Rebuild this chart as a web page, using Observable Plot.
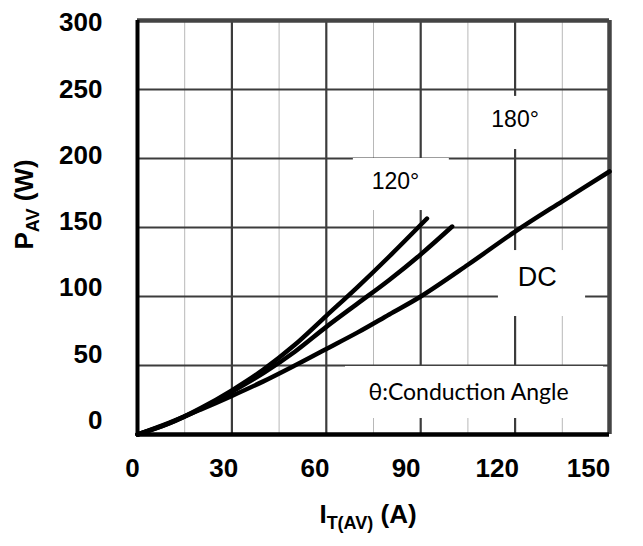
<!DOCTYPE html>
<html>
<head>
<meta charset="utf-8">
<script src="https://cdn.jsdelivr.net/npm/d3@7"></script>
<script src="https://cdn.jsdelivr.net/npm/@observablehq/plot@0.6"></script>
<style>
  html, body { margin: 0; padding: 0; background: #fff; }
  #wrap { position: relative; width: 643px; height: 546px; }
  #wrap svg { position: absolute; left: 0; top: 0; }
</style>
</head>
<body>
<div id="wrap"></div>
<script>
// ---- data ----
const xTicks = [0, 30, 60, 90, 120, 150];
const yTicks = [0, 50, 100, 150, 200, 250, 300];
const xMajor = [30, 60, 90, 120];
const xMinor = [15, 45, 75, 105, 135];
const yMajor = [50, 100, 150, 200, 250];

const curveA_I = [0, 10, 20, 30, 40, 50, 60, 70, 80, 92];
const curveA_P = [0, 8, 19, 32, 47, 65, 86, 107, 129, 156.5];

const curveB_I = [0, 10, 20, 30, 40, 50, 60, 70, 80, 90, 100];
const curveB_P = [0, 8, 18.5, 31, 44.5, 60, 78, 95, 112, 130.5, 150.7];

const curveDC_I = [0, 10, 20, 30, 40, 50, 60, 70, 80, 90, 105, 120, 135, 150];
const curveDC_P = [0, 8.5, 18, 28, 38.5, 50, 62, 74, 87, 100, 123, 147, 169, 190.6];

const labelText = ["120°", "180°", "DC", "θ:Conduction Angle"];
const labelI = [82, 120, 127, 105.2];
const labelP = [183, 228, 113.8, 30.4];
// white label boxes (data units)
const boxI1 = [68.6, 110.6, 114.7, 66.1];
const boxI2 = [99.1, 129.6, 142.4, 148.1];
const boxP1 = [162.3, 206.5, 85.5, 11.6];
const boxP2 = [200, 245, 133.3, 49.3];

// ---- tables ----
const toRows = (I, P, name) => I.map((v, i) => ({I: v, P: P[i], name}));
const series = [
  ...toRows(curveA_I, curveA_P, "A"),
  ...toRows(curveB_I, curveB_P, "B"),
  ...toRows(curveDC_I, curveDC_P, "DC")
];
const labels = labelText.map((t, i) => ({t, I: labelI[i], P: labelP[i]}));
const boxes = boxI1.map((v, i) => ({x1: v, x2: boxI2[i], y1: boxP1[i], y2: boxP2[i]}));

const W = 643, H = 546;

const main = Plot.plot({
  width: W, height: H,
  marginLeft: 137, marginRight: 34, marginTop: 20, marginBottom: 112,
  x: {domain: [0, 150], axis: null},
  y: {domain: [0, 300], axis: null},
  style: {background: "white"},
  marks: [
    Plot.ruleX(xMinor, {stroke: "#b8b8b8", strokeWidth: 1}),
    Plot.ruleX(xMajor, {stroke: "#3c3c3c", strokeWidth: 2.2}),
    Plot.ruleY(yMajor, {stroke: "#3c3c3c", strokeWidth: 2.2}),
    Plot.rect(boxes, {x1: "x1", x2: "x2", y1: "y1", y2: "y2", fill: "white"}),
    Plot.ruleX([150], {stroke: "#444", strokeWidth: 4.5}),
    Plot.ruleY([300], {stroke: "#444", strokeWidth: 4.5}),
    Plot.ruleX([0], {stroke: "#000", strokeWidth: 4}),
    Plot.ruleY([0], {stroke: "#000", strokeWidth: 4.5}),
    Plot.line(series, {x: "I", y: "P", z: "name", stroke: "#000", strokeWidth: 4.5, curve: "catmull-rom", strokeLinecap: "round"}),
    Plot.text(labels.slice(0, 3), {x: "I", y: "P", text: "t", fontSize: 23, fontFamily: "Liberation Sans", fill: "#000", lineAnchor: "middle"}),
    Plot.text(labels.slice(3), {x: "I", y: "P", text: "t", fontSize: 23, fontFamily: "Lato", fill: "#000", lineAnchor: "middle"})
  ]
});
main.querySelectorAll("text").forEach(t => {
  if (t.textContent === "DC") t.setAttribute("font-size", 27);
});

const axes = Plot.plot({
  width: W, height: H,
  marginLeft: 132, marginRight: 55, marginTop: 22.5, marginBottom: 126,
  x: {domain: [0, 150]},
  y: {domain: [0, 300]},
  style: {background: "transparent", fontFamily: "Liberation Sans", color: "#000"},
  marks: [
    Plot.axisX({ticks: xTicks, tickSize: 0, tickPadding: 38, label: null, fontSize: 26, fontWeight: "bold", tickFormat: d => String(d)}),
    Plot.axisY({ticks: yTicks, tickSize: 0, tickPadding: 30, label: null, fontSize: 26, fontWeight: "bold", tickFormat: d => String(d)})
  ]
});

const svgA = d3.select(axes);
const yt = svgA.append("text")
  .attr("transform", "translate(33,204.5) rotate(-90)")
  .attr("text-anchor", "middle")
  .attr("font-family", "Liberation Sans")
  .attr("font-weight", "bold")
  .attr("font-size", 26)
  .attr("fill", "#000");
yt.append("tspan").text("P");
yt.append("tspan").attr("font-size", 18).attr("dy", 6).text("AV");
yt.append("tspan").attr("dy", -6).text(" (W)");

const xt = svgA.append("text")
  .attr("transform", "translate(368,523)")
  .attr("text-anchor", "middle")
  .attr("font-family", "Liberation Sans")
  .attr("font-weight", "bold")
  .attr("font-size", 26)
  .attr("fill", "#000");
xt.append("tspan").text("I");
xt.append("tspan").attr("font-size", 18).attr("dy", 6).text("T(AV)");
xt.append("tspan").attr("dy", -6).text(" (A)");

const wrap = document.getElementById("wrap");
wrap.appendChild(main);
wrap.appendChild(axes);
</script>
</body>
</html>
